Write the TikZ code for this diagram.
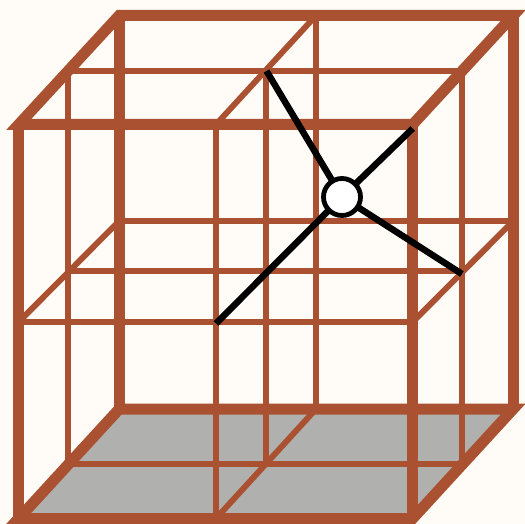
\documentclass[tikz,border=0pt]{standalone}
\definecolor{bgc}{HTML}{FFFCF7}
\definecolor{frame}{HTML}{A95131}
\definecolor{floorc}{HTML}{B0B0AE}
\tikzset{
  thinbar/.style={draw=frame,line width=5.9pt},
  thickbar/.style={draw=frame,line width=11pt,miter limit=20},
  probe/.style={draw=black,line width=6.5pt},
  hub/.style={circle,draw=black,fill=white,line width=4.8pt,minimum size=37pt,inner sep=0pt,outer sep=0pt}
}
\begin{document}
\begin{tikzpicture}[x=1pt,y=-1pt]
\path[use as bounding box,fill=bgc] (0,0) rectangle (525,524);
% corners
\coordinate (FTL) at (18.7,124.5); \coordinate (FTR) at (412.7,124.5);
\coordinate (FBL) at (18.7,518.5); \coordinate (FBR) at (412.7,518.5);
\coordinate (BTL) at (119.2,15.5); \coordinate (BTR) at (513.2,15.5);
\coordinate (BBL) at (119.2,409);  \coordinate (BBR) at (513.2,409);
% floor
\fill[floorc] (FBL) -- (BBL) -- (BBR) -- (FBR) -- cycle;
% thin bars
\coordinate (a1) at (68,71);   \coordinate (a2) at (462,71);
\coordinate (b1) at (68,464);  \coordinate (b2) at (462,464);
\coordinate (c1) at (68,271);  \coordinate (c2) at (462,271);
\coordinate (d1) at (18.7,322);\coordinate (d2) at (412.7,322);
\coordinate (e1) at (119.2,221);\coordinate (e2) at (513.2,221);
\coordinate (f1) at (216,124.5);\coordinate (f2) at (216,518.5);
\coordinate (g1) at (316,15.5); \coordinate (g2) at (316,409);
\coordinate (h1) at (266,71);   \coordinate (h2) at (266,464);
\draw[thinbar] (a1) -- (a2);
\draw[thinbar] (b1) -- (b2);
\draw[thinbar] (c1) -- (c2);
\draw[thinbar] (d1) -- (d2);
\draw[thinbar] (e1) -- (e2);
\draw[thinbar] (a1) -- (b1);
\draw[thinbar] (a2) -- (b2);
\draw[thinbar] (f1) -- (f2);
\draw[thinbar] (g1) -- (g2);
\draw[thinbar] (h1) -- (h2);
\draw[thinbar] (f1) -- (g1);
\draw[thinbar] (f2) -- (g2);
\draw[thinbar] (d1) -- (e1);
\draw[thinbar] (d2) -- (e2);
% thick frame
\draw[thickbar] (FTL) -- (FTR) -- (BTR) -- (BTL) -- cycle;
\draw[thickbar] (FBL) -- (FBR) -- (BBR) -- (BBL) -- cycle;
\draw[thickbar] (FTL) -- (FBL);
\draw[thickbar] (FTR) -- (FBR);
\draw[thickbar] (BTL) -- (BBL);
\draw[thickbar] (BTR) -- (BBR);
% probe
\node[hub] (hub) at (342,197) {};
\coordinate (p1) at (266.5,71);
\coordinate (p2) at (412.7,128.5);
\coordinate (p3) at (462,274);
\coordinate (p4) at (216,323.5);
\draw[probe] (hub) -- (p1);
\draw[probe] (hub) -- (p2);
\draw[probe] (hub) -- (p3);
\draw[probe] (hub) -- (p4);
\end{tikzpicture}
\end{document}
